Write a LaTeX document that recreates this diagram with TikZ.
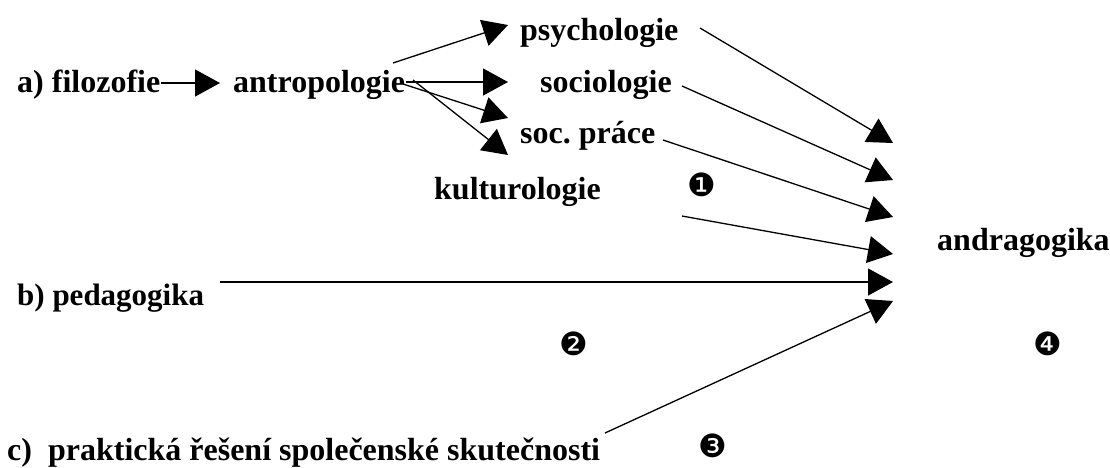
\documentclass[tikz,border=0pt]{standalone}
\usepackage{fontspec}
\setmainfont{Liberation Serif}
\newfontfamily\dingfont{DejaVu Sans}
\usetikzlibrary{arrows.meta}
\begin{document}
\frenchspacing
\begin{tikzpicture}[x=1pt,y=-1pt,
  lbl/.style={anchor=base west,inner sep=0pt,font=\fontsize{32}{38}\selectfont\bfseries},
  num/.style={inner sep=0pt,font=\fontsize{32}{36}\selectfont\dingfont},
  arr/.style={line width=1.3pt,-{Triangle[length=25pt,width=27pt]}}]
\useasboundingbox (0,0) rectangle (1110,467);

% discipline labels
\node[lbl] (fil) at (17,92)  {a) filozofie};
\node[lbl] (ant) at (233,92) {antropologie};
\node[lbl] (psy) at (520,40) {psychologie};
\node[lbl] (soc) at (540,92) {sociologie};
\node[lbl] (spr) at (520,143) {soc. práce};
\node[lbl] (kul) at (434,199) {kulturologie};
\node[lbl] (and) at (937,250) {andragogika};
\node[lbl,font=\fontsize{31}{36}\selectfont\bfseries] (ped) at (17,305) {b) pedagogika};
\node[lbl] (pra) at (7,460) {c)\ \ praktická řešení společenské skutečnosti};

% numbered markers
\node[num] (n1) at (702,185) {❶};
\node[num] (n2) at (574,344) {❷};
\node[num] (n3) at (713,446) {❸};
\node[num] (n4) at (1048,344) {❹};

% connector ends
\coordinate (f0) at (161,83);  \coordinate (f1) at (220,83);
\coordinate (a1) at (393,63);  \coordinate (t1) at (508,25);
\coordinate (a2) at (406,82);  \coordinate (t2) at (508,82);
\coordinate (a3) at (403,84);  \coordinate (t3) at (508,118);
\coordinate (a4) at (413,80);  \coordinate (t4) at (508,155);
\coordinate (p0) at (700,28);  \coordinate (e1) at (893,143);
\coordinate (s0) at (682,86);  \coordinate (e2) at (893,180);
\coordinate (r0) at (663,140); \coordinate (e3) at (893,217);
\coordinate (k0) at (682,216); \coordinate (e4) at (893,254);
\coordinate (b0) at (220,282); \coordinate (e5) at (893,282);
\coordinate (c0) at (605,433); \coordinate (e6) at (893,301);

% first level: philosophy to anthropology and its branches
\draw[arr] (f0) -- (f1);
\draw[arr] (a1) -- (t1);
\draw[arr] (a2) -- (t2);
\draw[arr] (a3) -- (t3);
\draw[arr] (a4) -- (t4);

% everything flows into andragogy
\draw[arr] (p0) -- (e1);
\draw[arr] (s0) -- (e2);
\draw[arr] (r0) -- (e3);
\draw[arr] (k0) -- (e4);
\draw[arr] (b0) -- (e5);
\draw[arr] (c0) -- (e6);
\end{tikzpicture}
\end{document}
